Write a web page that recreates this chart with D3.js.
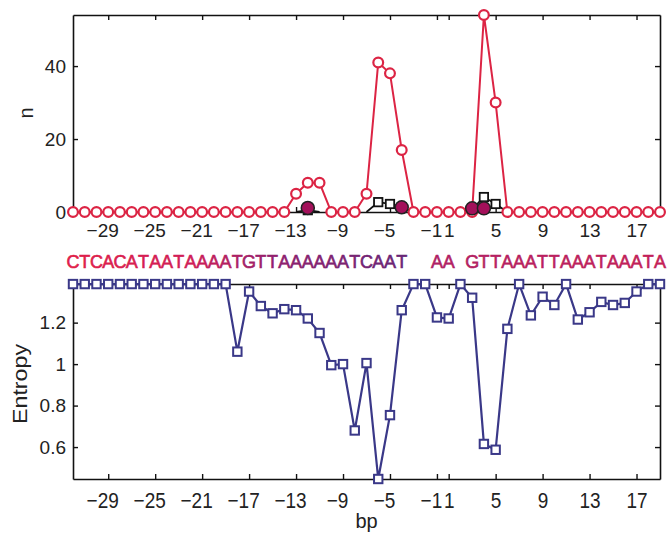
<!DOCTYPE html>
<html><head><meta charset="utf-8">
<script src="https://cdn.jsdelivr.net/npm/d3@7"></script>
<style>
body{margin:0;background:#fff}
text{font-family:"Liberation Sans",Arial,Helvetica,sans-serif}
</style></head>
<body><svg id="c" width="668" height="533"></svg>
<script>
// ---------- data ----------
const bp = [-32,-31,-30,-29,-28,-27,-26,-25,-24,-23,-22,-21,-20,-19,-18,-17,-16,-15,-14,-13,-12,-11,-10,-9,-8,-7,-6,-5,-4,-3,-2,-1,
            1,2,3,4,5,6,7,8,9,10,11,12,13,14,15,16,17,18,19];
const nCounts = [0,0,0,0,0,0,0,0,0,0,0,0,0,0,0,0,0,0,0, 5,8,8, 0,0,0, 5,41,38,17, 0,0,0,0,0,0, 54,30, 0,0,0,0,0,0,0,0,0,0,0,0,0,0];
const nSecond = [null,null,null,null,null,null,null,null,null,null,null,null,null,null,null,null,null,null,null,
                 0,0.5,0, null,null,null, 0,2.7,2.2,1.2,0, null,null,null, 0,0.8,4.1,2.2,0,
                 null,null,null,null,null,null,null,null,null,null,null,null,null];
const nMarked = [null,null,null,null,null,null,null,null,null,null,null,null,null,null,null,null,null,null,null,
                 null,1.1,null, null,null,null, null,null,null,1.3,null, null,null,null, null,1.0,1.0,null,null,
                 null,null,null,null,null,null,null,null,null,null,null,null,null];
const entropy = [1.386,1.386,1.386,1.386,1.386,1.386,1.386,1.386,1.386,1.386,1.386,1.386,1.386,1.386,
                 1.06,1.35,1.28,1.245,1.265,1.26,1.22,1.15,0.995,1.0,0.68,1.005,0.446,0.754,1.26,1.386,1.386,1.225,
                 1.22,1.386,1.32,0.615,0.587,1.17,1.386,1.235,1.325,1.285,1.386,1.215,1.25,1.30,1.285,1.295,1.35,1.386,1.386];
const seqLetters = "CTCACATAATAAAATGTTAAAAAATCAAT  AA GTTAAATTAAATAAATA".split("");
const xTicks = [-29,-25,-21,-17,-13,-9,-5,-1,1,5,9,13,17];
const nTicks = [0,20,40];
const entTicks = [0.6,0.8,1,1.2];

// ---------- layout ----------
const svg = d3.select("#c");
const L = 73, R = 660;
const top1 = 15, bot1 = 212;
const top2 = 284, bot2 = 479;
const red = "#dc2444", blue = "#3a3888", purple = "#a3105a";

const x = d3.scalePoint().domain(bp).range([L, R]);
const y1 = d3.scaleLinear().domain([0, 54]).range([bot1, top1]);
const y2 = d3.scaleLinear().domain([0.446, Math.log(4)]).range([bot2, top2]);

function styleAxis(g, fs){
  g.selectAll("path.domain").attr("stroke","#111").attr("stroke-width",1.6);
  g.selectAll(".tick line").attr("stroke","#111").attr("stroke-width",1.4);
  g.selectAll(".tick text").attr("fill","#222").style("font-size",fs+"px").attr("font-family",null);
}
const fmtX = d => d < 0 ? "\u2212" + Math.abs(d) : String(d);

// ---------- top panel ----------
const gTop = svg.append("g");
gTop.append("g").attr("transform",`translate(0,${bot1})`)
  .call(d3.axisBottom(x).tickValues(xTicks).tickSizeInner(-5).tickSizeOuter(0).tickPadding(12).tickFormat(fmtX))
  .call(g=>styleAxis(g,19))
  .call(g=>g.selectAll(".tick text").attr("dx", d => d < 0 ? -6 : 0));
gTop.append("g").attr("transform",`translate(0,${top1})`)
  .call(d3.axisTop(x).tickValues(xTicks).tickSizeInner(-5).tickSizeOuter(0).tickFormat(""))
  .call(g=>styleAxis(g,19));
gTop.append("g").attr("transform",`translate(${L},0)`)
  .call(d3.axisLeft(y1).tickValues(nTicks).tickSizeInner(-5).tickSizeOuter(0).tickPadding(7))
  .call(g=>styleAxis(g,19));
gTop.append("g").attr("transform",`translate(${R},0)`)
  .call(d3.axisRight(y1).tickValues(nTicks).tickSizeInner(-5).tickSizeOuter(0).tickFormat(""))
  .call(g=>styleAxis(g,19));

const rows = bp.map((b,i)=>({b, n:nCounts[i], s:nSecond[i], m:nMarked[i], e:entropy[i], ch:seqLetters[i]}));

// second series (black squares)
gTop.append("path").datum(rows)
  .attr("fill","none").attr("stroke","#111").attr("stroke-width",1.8)
  .attr("d", d3.line().defined(d=>d.s!==null).x(d=>x(d.b)).y(d=>y1(d.s)));
gTop.selectAll("rect.sq").data(rows.filter(d=>d.s!==null && d.s>0)).join("rect")
  .attr("x",d=>x(d.b)-4.2).attr("y",d=>y1(d.s)-4.2).attr("width",8.4).attr("height",8.4)
  .attr("fill","#fff").attr("stroke","#111").attr("stroke-width",1.8);

// red series
gTop.append("path").datum(rows)
  .attr("fill","none").attr("stroke",red).attr("stroke-width",2)
  .attr("d", d3.line().x(d=>x(d.b)).y(d=>y1(d.n)));
gTop.selectAll("circle.o").data(rows).join("circle")
  .attr("cx",d=>x(d.b)).attr("cy",d=>y1(d.n)).attr("r",4.9)
  .attr("fill","#fff").attr("stroke",red).attr("stroke-width",2.2);

// purple filled markers
gTop.selectAll("circle.f").data(rows.filter(d=>d.m!==null)).join("circle")
  .attr("cx",d=>x(d.b)).attr("cy",d=>y1(d.m)).attr("r",6.5)
  .attr("fill",purple).attr("stroke","#222").attr("stroke-width",1.5);

svg.append("text").attr("transform","translate(33,113) rotate(-90)")
  .attr("text-anchor","middle").style("font-size","20px").attr("fill","#222").text("n");

// ---------- sequence ----------
const seqColor = d3.scaleLinear()
  .domain([-32,-22,-15,-4,-1,19])
  .range(["#e01e4a","#d01d58","#92206e","#682676","#b01f66","#c41f58"]);
svg.append("g").selectAll("text").data(rows).join("text")
  .attr("x",d=>x(d.b)).attr("y",268).attr("text-anchor","middle")
  .style("font-size","18px").attr("fill",d=>seqColor(d.b))
  .attr("stroke",d=>seqColor(d.b)).attr("stroke-width",0.6)
  .text(d=>d.ch.trim());

// ---------- bottom panel ----------
const gBot = svg.append("g");
gBot.append("g").attr("transform",`translate(0,${bot2})`)
  .call(d3.axisBottom(x).tickValues(xTicks).tickSizeInner(-5).tickSizeOuter(0).tickPadding(12).tickFormat(fmtX))
  .call(g=>styleAxis(g,19))
  .call(g=>g.selectAll(".tick text").attr("dx", d => d < 0 ? -6 : 0).attr("transform","scale(1,1.15)"));
gBot.append("g").attr("transform",`translate(0,${top2})`)
  .call(d3.axisTop(x).tickValues(xTicks).tickSizeInner(-5).tickSizeOuter(0).tickFormat(""))
  .call(g=>styleAxis(g,19));
gBot.append("g").attr("transform",`translate(${L},0)`)
  .call(d3.axisLeft(y2).tickValues(entTicks).tickSizeInner(-5).tickSizeOuter(0).tickPadding(7)
        .tickFormat(d => d===1 ? "1" : d3.format(".1f")(d)))
  .call(g=>styleAxis(g,19));
gBot.append("g").attr("transform",`translate(${R},0)`)
  .call(d3.axisRight(y2).tickValues(entTicks).tickSizeInner(-5).tickSizeOuter(0).tickFormat(""))
  .call(g=>styleAxis(g,19));

gBot.append("path").datum(rows)
  .attr("fill","none").attr("stroke",blue).attr("stroke-width",2.2)
  .attr("d", d3.line().x(d=>x(d.b)).y(d=>y2(d.e)));
gBot.selectAll("rect.e").data(rows).join("rect")
  .attr("x",d=>x(d.b)-4.2).attr("y",d=>y2(d.e)-4.2).attr("width",8.4).attr("height",8.4)
  .attr("fill","#fff").attr("stroke",blue).attr("stroke-width",2);

svg.append("text").attr("transform","translate(27,384) rotate(-90)")
  .attr("text-anchor","middle").style("font-size","20px").attr("fill","#222")
  .attr("textLength",80).attr("lengthAdjust","spacingAndGlyphs").text("Entropy");
svg.append("text").attr("x",(L+R)/2).attr("y",528).attr("text-anchor","middle")
  .style("font-size","20px").attr("fill","#222").text("bp");
</script></body></html>
